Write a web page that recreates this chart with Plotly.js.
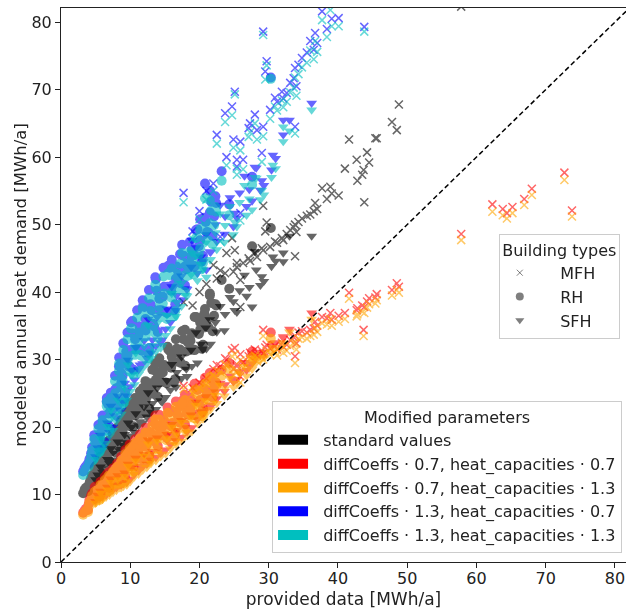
<!DOCTYPE html>
<html>
<head>
<meta charset="utf-8">
<script src="https://cdn.plot.ly/plotly-3.0.1.min.js"></script>
<style>
  html, body { margin: 0; padding: 0; background: #fff; }
  #chart { width: 626px; height: 609px; }
</style>
</head>
<body>
<div id="chart"></div>
<script>
// ---------- data (provided data vs. modeled annual heat demand, MWh/a) ----------
const paramLabels = [
  'standard values',
  'diffCoeffs · 0.7, heat_capacities · 0.7',
  'diffCoeffs · 0.7, heat_capacities · 1.3',
  'diffCoeffs · 1.3, heat_capacities · 0.7',
  'diffCoeffs · 1.3, heat_capacities · 1.3'
];
const typeLabels = ['MFH', 'RH', 'SFH'];
const tickValues = [0, 10, 20, 30, 40, 50, 60, 70, 80];
const diagonal = [0, 90];

// RH
const rhX = [3.2,3.4,3.6,3.9,4.1,4.5,4.8,5.1,5.4,5.7,6.0,6.3,6.6,6.9,7.2,7.5,7.8,8.1,8.4,8.7,9.0,9.3,9.6,9.9,10.3,10.7,11.0,11.4,11.8,12.2,12.7,13.2,13.7,14.2,14.8,15.4,16.0,16.6,17.2,17.9,18.6,19.3,20.1,20.8,21.5,22.3,23.2,24.3,27.6,30.3,
  4.0,4.35,4.7,5.05,5.4,5.75,6.1,6.45,6.8,7.15,7.5,7.85,8.2,8.55,8.9,9.25,9.6,9.95,10.3,10.65,11.0,11.35,11.7,12.05,12.4,12.75,13.1,13.45,13.8,14.15,14.5,14.9,15.3,15.7,16.1,16.5,16.9,17.3,17.7,18.1,18.5,18.9,19.3,19.7,20.1,20.5,20.9,21.3,21.7,22.1,
  4.17,4.52,4.87,5.22,5.57,5.92,6.27,6.62,6.97,7.32,7.67,8.02,8.37,8.72,9.07,9.42,9.77,10.12,10.47,10.82,11.17,11.52,11.87,12.22,12.57,12.92,13.27,13.62,13.97,14.32,14.7,15.1,15.5,15.9,16.3,16.7,17.1,17.5,17.9,18.3,18.7,19.1,19.5,19.9,20.3,20.7,21.1,21.5,21.9,22.4];
const rhStd = [10.2,10.7,11.0,10.5,11.5,12.9,12.6,14.3,14.0,15.6,15.0,16.8,16.0,18.0,17.2,19.0,18.0,19.9,19.0,21.0,20.0,22.1,20.9,23.1,21.9,24.3,23.0,25.3,24.1,26.8,25.5,28.5,27.0,30.2,29.0,31.9,30.4,33.0,31.5,34.4,33.0,36.3,35.5,37.5,39.5,38.2,41.8,40.5,46.8,49.5,
  11.3,12.4,12.0,14.2,13.9,13.2,15.2,14.8,16.9,16.3,16.6,18.3,17.1,19.9,19.4,18.2,21.0,20.2,22.8,21.7,21.9,23.9,22.0,25.8,24.5,22.7,26.1,24.9,28.2,26.6,26.7,29.2,26.5,31.3,29.4,27.1,31.0,29.5,33.0,31.2,31.4,33.9,31.4,36.2,34.4,32.2,36.2,34.8,38.4,36.5,
  11.9,11.9,14.0,13.4,12.8,15.3,14.7,17.4,15.0,17.2,17.6,17.1,20.1,18.9,17.7,21.2,20.2,23.6,20.1,22.8,23.0,22.0,25.8,23.9,22.2,26.5,25.0,29.4,24.5,27.9,28.1,26.6,31.5,28.8,26.6,31.6,29.7,34.2,29.1,32.6,32.8,31.5,36.3,33.8,31.6,36.8,34.9,39.8,34.2,38.0];
const rhD07H07 = [7.3,7.6,7.9,7.7,9.2,10.2,10.5,11.0,10.7,11.9,11.5,12.6,12.2,13.3,13.0,13.9,13.7,14.6,14.1,15.6,15.2,16.6,15.9,17.4,16.7,18.2,17.5,18.9,18.1,19.9,19.3,20.8,20.3,21.8,21.2,22.9,22.4,23.8,23.1,24.8,24.4,26.4,26.2,27.3,27.9,28.0,28.5,29.5,31.2,34.0,
  8.6,9.8,9.3,11.2,10.5,10.1,11.5,11.2,12.4,12.0,12.0,13.4,12.0,14.7,13.8,12.8,15.0,14.3,16.6,15.6,15.3,17.3,15.3,19.1,17.4,15.8,18.9,17.9,20.3,19.0,18.8,20.9,18.4,22.2,20.6,19.1,21.6,20.6,23.1,22.0,21.8,23.8,21.8,25.5,24.0,22.7,25.5,24.8,26.9,25.9,
  9.2,9.2,11.1,10.4,9.7,11.5,11.2,13.0,11.0,12.4,12.9,12.3,14.5,13.3,12.4,15.5,14.2,17.4,14.1,16.5,16.5,15.3,19.2,17.1,15.3,19.2,18.0,21.7,17.2,19.8,20.1,18.8,22.3,20.1,18.6,22.3,20.7,23.9,20.4,22.9,22.9,21.8,25.6,23.7,22.1,25.7,24.8,28.0,24.4,26.6];
const rhD07H13 = [7.0,7.3,7.6,7.4,8.8,9.8,10.0,10.6,10.3,11.4,11.1,12.1,11.8,12.8,12.5,13.4,13.2,14.1,13.6,15.0,14.7,16.0,15.3,16.8,16.1,17.6,16.9,18.3,17.5,19.2,18.6,20.1,19.6,21.1,20.5,22.1,21.6,23.0,22.3,24.0,23.6,25.5,25.4,26.4,27.0,27.1,27.6,28.6,30.3,33.1,
  8.2,9.2,8.8,10.5,10.1,9.5,11.0,10.5,12.0,11.4,11.5,12.7,11.6,14.1,13.3,12.1,14.6,13.7,16.1,14.9,14.9,16.7,14.8,18.4,17.0,15.2,18.4,17.2,19.9,18.4,18.3,20.2,18.0,21.6,20.1,18.4,21.2,20.0,22.6,21.3,21.4,23.2,21.3,24.8,23.6,22.1,25.0,24.1,26.5,25.3,
  8.7,8.8,10.4,9.8,9.2,11.1,10.5,12.4,10.5,12.0,12.2,11.7,14.0,12.9,11.7,14.9,13.7,17.0,13.4,15.9,16.0,14.9,18.5,16.5,14.8,18.8,17.3,21.1,16.7,19.4,19.4,18.2,21.8,19.7,17.9,21.7,20.2,23.5,19.7,22.3,22.4,21.4,24.9,23.1,21.6,25.3,24.1,27.4,23.9,26.2];
const rhD13H07 = [13.4,13.9,14.2,14.6,15.2,17.0,18.8,17.8,20.3,19.0,21.7,20.5,23.8,22.0,25.1,23.6,27.6,25.8,30.3,28.0,32.4,30.2,34.0,31.4,35.7,33.0,37.3,34.6,38.8,36.0,40.3,37.5,41.9,39.0,43.6,40.8,44.8,42.0,45.6,43.8,47.4,45.5,50.8,56.1,51.8,54.2,57.9,53.0,57.1,71.8,
  14.6,16.1,15.6,18.7,18.3,17.3,20.6,20.0,23.4,22.3,22.7,25.6,23.3,29.2,27.6,25.2,30.7,28.9,33.9,31.5,31.6,34.9,31.3,37.8,35.1,31.7,37.3,34.9,40.2,37.3,37.3,40.8,36.9,43.6,41.0,38.2,43.1,41.3,45.4,43.4,43.6,46.3,43.8,49.3,47.7,45.4,50.4,48.8,53.4,51.2,
  15.3,15.4,18.3,17.6,16.7,20.7,19.9,24.3,20.1,23.7,24.3,23.3,29.0,26.6,24.2,31.2,29.0,35.5,28.5,33.4,33.6,31.5,38.0,34.3,31.0,38.2,35.3,42.2,34.1,39.3,39.3,37.1,43.9,40.2,37.3,43.8,41.5,47.0,41.0,44.9,45.2,43.9,49.2,46.8,44.5,51.0,48.9,55.0,48.3,53.2];
const rhD13H13 = [12.9,13.4,13.8,14.1,14.7,16.5,18.2,17.3,19.7,18.4,21.0,19.9,23.1,21.3,24.3,22.9,26.8,25.0,29.4,27.2,31.4,29.3,33.0,30.5,34.6,32.0,36.2,33.6,37.6,34.9,39.1,36.4,40.6,37.8,42.3,39.6,43.5,40.7,44.2,42.5,46.0,44.1,49.3,53.9,50.2,52.6,56.5,51.4,55.9,71.6,
  14.2,15.7,15.2,18.2,17.8,16.9,20.1,19.5,22.8,21.7,22.1,25.0,22.7,28.5,26.9,24.6,29.9,28.2,33.1,30.7,30.8,34.0,30.5,36.9,34.2,30.9,36.4,34.0,39.2,36.4,36.4,39.8,36.0,42.5,40.0,37.2,42.0,40.3,44.3,42.3,42.5,45.1,42.7,48.1,46.5,44.3,49.1,47.6,52.1,49.9,
  14.9,15.0,17.8,17.2,16.3,20.2,19.4,23.7,19.6,23.1,23.7,22.7,28.3,25.9,23.6,30.4,28.3,34.6,27.8,32.6,32.8,30.7,37.1,33.4,30.2,37.2,34.4,41.1,33.2,38.3,38.3,36.2,42.8,39.2,36.4,42.7,40.5,45.8,40.0,43.8,44.1,42.8,48.0,45.6,43.4,49.7,47.7,53.6,47.1,51.9];

// SFH
const sfhX = [5.0,5.5,6.0,6.5,7.0,7.5,8.0,8.5,9.0,9.5,10.0,10.6,11.2,11.8,12.4,13.0,13.7,14.4,15.1,15.8,16.6,17.4,18.2,18.9,19.7,20.5,21.0,21.5,22.5,23.6,24.9,25.4,26.8,27.6,28.0,28.8,29.0,30.4,31.0,32.1,32.1,36.2,
  5.3,5.7,6.2,6.7,7.2,7.7,8.2,8.7,9.2,9.7,10.2,10.8,11.4,12.0,12.6,13.2,13.9,14.6,15.3,16.0,16.7,17.4,18.1,18.8,19.5,20.2,20.9,21.6,22.3,23.0,23.7,24.4,25.1,25.8,26.5,27.2,28.2,29.3,30.6,33.0];
const sfhStd = [12.2,12.6,13.3,13.8,14.6,15.1,16.0,16.5,17.3,17.7,18.7,19.2,20.2,20.6,21.5,22.2,22.6,23.9,24.4,25.5,25.9,27.2,27.5,29.0,29.5,31.5,31.6,35.9,34.1,34.3,38.6,37.0,39.4,37.8,46.0,41.0,42.3,43.8,44.6,45.8,44.5,48.3,
  12.9,14.1,13.6,15.2,16.8,16.1,17.8,16.7,18.9,20.6,20.0,22.0,20.8,23.0,25.1,23.5,25.8,23.7,26.9,29.3,28.1,30.4,28.6,31.4,34.0,32.3,34.7,32.3,35.5,37.9,36.7,39.2,37.3,40.2,42.5,40.7,43.3,41.6,45.2,48.3];
const sfhD07H07 = [9.0,9.3,9.6,9.9,10.3,10.7,11.0,11.4,11.6,11.8,12.3,13.0,13.5,14.1,14.5,15.1,15.5,16.1,16.6,17.4,18.0,18.5,19.3,19.9,21.1,21.9,22.7,23.3,24.2,25.3,26.7,27.1,28.4,29.4,30.1,30.7,31.1,32.0,32.5,33.4,33.2,36.9,
  9.9,10.5,10.2,11.1,12.3,11.4,12.8,11.4,13.2,14.5,14.0,15.4,14.2,16.0,18.1,16.4,18.4,16.3,18.9,20.4,19.5,21.0,19.9,21.8,23.7,22.3,24.5,23.0,25.2,26.5,26.3,27.6,27.0,28.2,29.6,29.1,30.6,30.6,32.4,34.5];
const sfhD07H13 = [8.7,9.0,9.3,9.6,9.9,10.3,10.6,11.0,11.2,11.4,11.9,12.6,13.0,13.6,14.0,14.6,15.0,15.6,16.0,16.8,17.4,17.9,18.7,19.3,20.5,21.2,22.0,22.6,23.5,24.6,25.9,26.3,27.6,28.6,29.3,29.9,30.3,31.1,31.6,32.5,32.3,36.0,
  9.4,10.2,9.6,10.7,11.8,11.1,12.2,11.0,12.7,14.2,13.4,15.0,13.7,15.7,17.5,16.0,17.9,16.0,18.3,20.0,19.0,20.7,19.3,21.4,23.2,22.0,23.9,22.6,24.7,26.2,25.7,27.2,26.5,27.9,29.0,28.7,30.1,30.3,31.8,34.1];
const sfhD13H07 = [15.6,16.3,17.0,18.1,19.2,20.0,21.4,22.5,23.7,24.6,26.0,27.0,28.5,29.4,30.2,31.0,32.0,32.5,34.5,35.5,37.3,38.9,40.4,47.7,42.8,44.5,43.3,46.0,47.5,48.6,49.7,51.0,52.7,53.5,58.5,55.1,56.5,58.1,59.8,65.5,63.3,68.0,
  16.9,18.8,17.9,20.6,23.1,21.7,24.6,22.5,26.5,29.9,28.4,31.8,29.2,32.8,36.0,32.9,36.3,32.9,37.5,40.8,39.5,42.4,40.5,43.7,46.6,45.2,48.5,45.9,50.0,52.9,51.2,54.0,51.7,54.7,57.2,55.2,58.4,55.8,60.3,65.5];
const sfhD13H13 = [15.2,15.9,16.6,17.6,18.7,19.5,20.9,21.9,23.1,24.0,25.3,26.3,27.8,28.7,29.4,30.2,31.2,31.7,33.6,34.6,36.4,37.9,39.4,45.8,41.7,43.4,42.2,44.8,46.3,47.4,48.5,49.7,51.4,52.2,57.0,53.7,55.1,57.0,58.3,64.5,62.3,67.0,
  16.5,18.3,17.5,20.1,22.5,21.2,24.0,21.9,25.8,29.2,27.7,31.0,28.5,32.0,35.1,32.1,35.4,32.1,36.6,39.8,38.5,41.3,39.5,42.6,45.4,44.1,47.3,44.8,48.8,51.6,49.9,52.7,50.4,53.3,55.8,53.8,56.9,54.4,58.8,63.9];

// MFH
const mfhX = [17.7,19.0,20.0,21.0,22.0,22.5,23.0,23.7,23.9,24.7,24.9,25.1,25.4,25.4,25.9,25.9,26.3,27.1,27.3,28.0,28.3,29.0,29.2,29.2,29.5,29.7,30.2,30.9,31.2,31.9,32.1,32.6,33.1,33.6,33.8,33.8,34.0,34.3,34.8,35.5,36.0,36.5,36.7,37.0,37.7,38.4,38.9,39.1,40.1,41.0,41.6,42.7,42.8,43.5,43.7,43.8,44.2,44.5,45.4,45.6,47.8,48.5,48.8,57.8,62.3,63.8,64.4,65.2,66.9,68.0,72.7,73.8];
const mfhStd = [38.5,38.0,40.0,41.2,44.0,42.0,43.2,42.8,45.8,48.0,43.0,46.2,44.3,43.7,41.8,37.8,44.3,45.0,44.6,45.8,45.2,46.5,52.8,46.2,49.0,50.3,46.7,47.5,47.3,48.0,47.7,48.6,49.2,49.6,45.3,50.0,48.9,50.4,50.9,51.3,51.5,52.0,53.2,52.3,55.4,53.8,55.6,54.6,54.3,58.3,62.6,59.6,56.5,57.4,58.1,53.3,60.7,59.2,62.8,62.8,65.2,64.0,67.8,82.3,88.0,90.0,91.0,92.0,95.0,97.0,103.0,104.0];
const mfhD07H07 = [26.1,25.8,26.6,27.2,28.6,29.2,29.0,30.2,30.0,31.4,28.6,31.7,29.0,29.3,30.8,27.5,29.6,30.5,31.0,31.5,30.6,31.3,34.4,30.9,31.8,32.2,31.6,32.0,31.5,32.5,31.9,32.2,32.9,33.3,30.5,33.5,32.4,34.0,34.2,34.0,34.4,34.6,35.6,35.0,36.3,36.1,36.9,35.9,36.5,36.9,39.9,37.3,37.6,38.0,34.4,37.8,38.6,39.1,39.2,39.7,40.3,41.3,40.8,48.6,53.0,52.3,51.7,52.6,53.8,55.3,57.7,52.1];
const mfhD07H13 = [25.6,25.0,25.8,26.4,27.7,28.3,28.2,29.3,29.1,30.5,27.7,30.8,28.1,28.4,29.9,26.6,28.7,29.6,30.1,30.6,29.7,30.4,33.5,30.0,30.9,31.3,30.7,31.1,30.6,31.6,31.0,31.3,32.0,32.4,29.5,32.6,31.5,33.1,33.3,33.1,33.5,33.7,34.7,34.1,35.4,35.2,36.0,35.0,35.6,36.0,39.0,36.4,36.7,37.1,33.5,36.9,37.7,38.2,38.3,38.8,39.5,40.3,39.9,47.7,51.9,51.4,50.9,51.7,52.9,54.4,56.6,51.2];
const mfhD13H07 = [54.7,49.0,52.0,55.0,56.1,63.3,48.2,66.5,60.0,67.5,62.6,69.7,59.6,58.6,62.3,51.7,59.6,64.3,65.0,66.3,64.0,60.6,78.6,64.5,72.7,74.2,67.0,68.8,68.2,69.7,68.7,69.5,71.0,71.7,64.5,73.2,70.5,73.7,74.7,75.5,77.2,75.9,78.4,76.9,81.6,79.0,83.0,80.5,80.6,85.0,90.0,86.5,84.0,84.8,86.0,79.3,89.0,87.5,92.0,92.5,95.0,94.0,99.0,120.0,128.0,130.0,131.0,133.0,136.0,138.0,147.0,150.0];
const mfhD13H13 = [53.3,47.9,50.8,53.7,55.0,62.0,47.5,65.2,58.8,66.2,61.4,69.3,58.3,57.4,61.0,50.6,58.2,63.0,63.7,65.0,62.6,59.3,78.1,63.1,71.5,73.6,65.7,67.5,66.9,68.4,67.4,68.2,69.6,70.3,63.5,71.8,69.1,72.3,73.3,74.0,75.8,74.5,77.2,75.6,80.3,77.8,81.8,79.4,79.4,84.0,89.0,85.3,83.0,83.6,85.0,78.6,88.0,86.2,91.0,91.3,94.0,93.0,98.0,118.0,126.0,128.0,129.0,131.0,134.0,136.0,145.0,148.0];

// ---------- styles ----------
const paramColors = ['#000000', '#ff0000', '#ffa500', '#0000ff', '#00bfbf'];
const typeSymbols = ['x-thin', 'circle', 'triangle-down'];
const typeSizes = [8, 10, 9.5];
const FONT = 'DejaVu Sans, Liberation Sans, sans-serif';
const PAD = '\u00a0\u00a0';

const groups = [
  { x: mfhX, ys: [mfhStd, mfhD07H07, mfhD07H13, mfhD13H07, mfhD13H13] },
  { x: rhX,  ys: [rhStd,  rhD07H07,  rhD07H13,  rhD13H07,  rhD13H13] },
  { x: sfhX, ys: [sfhStd, sfhD07H07, sfhD07H13, sfhD13H07, sfhD13H13] }
];

const traces = [];
for (let p = 0; p < paramLabels.length; p++) {
  for (let t = 0; t < typeLabels.length; t++) {
    const isX = typeSymbols[t] === 'x-thin';
    traces.push({
      type: 'scatter', mode: 'markers',
      x: groups[t].x, y: groups[t].ys[p],
      showlegend: false, hoverinfo: 'skip',
      opacity: 0.6,
      marker: {
        symbol: typeSymbols[t], size: typeSizes[t],
        color: paramColors[p],
        line: isX ? { color: paramColors[p], width: 1.5 } : { width: 0 }
      }
    });
  }
}

// diagonal reference y = x
traces.push({
  type: 'scatter', mode: 'lines', x: diagonal, y: diagonal,
  showlegend: false, hoverinfo: 'skip',
  line: { color: '#000', width: 1.5, dash: '5px,3px' }
});

// legend: modified parameters (colour patches)
for (let p = 0; p < paramLabels.length; p++) {
  traces.push({
    type: 'scatter', mode: 'lines', x: [null], y: [null],
    name: PAD + paramLabels[p], legend: 'legend',
    line: { color: paramColors[p], width: 12 }
  });
}
// legend: building types
const legendSizes = [6, 8, 8];
for (let t = 0; t < typeLabels.length; t++) {
  const isX = typeSymbols[t] === 'x-thin';
  traces.push({
    type: 'scatter', mode: 'markers', x: [null], y: [null],
    name: PAD + PAD + typeLabels[t], legend: 'legend2',
    marker: {
      symbol: typeSymbols[t], size: legendSizes[t], color: 'rgba(0,0,0,0.5)',
      line: isX ? { color: 'rgba(0,0,0,0.5)', width: 1 } : { width: 0 }
    }
  });
}

const axisCommon = {
  showgrid: false, zeroline: false,
  showline: true, linecolor: '#222', linewidth: 1,
  ticks: 'outside', ticklen: 5, tickwidth: 1, tickcolor: '#222',
  tickvals: tickValues,
  tickfont: { family: FONT, size: 16, color: '#222' }
};

const layout = {
  width: 626, height: 609,
  margin: { l: 61, r: 0, t: 8, b: 47 },
  paper_bgcolor: '#fff', plot_bgcolor: '#fff',
  font: { family: FONT, color: '#222' },
  xaxis: Object.assign({}, axisCommon, {
    range: [0, 81.6], mirror: true, ticklabelstandoff: -3,
    title: { text: 'provided data [MWh/a]', font: { family: FONT, size: 17, color: '#222' }, standoff: 6 }
  }),
  yaxis: Object.assign({}, axisCommon, {
    range: [0, 82.1],
    title: { text: 'modeled annual heat demand [MWh/a]', font: { family: FONT, size: 16.5, color: '#222' }, standoff: 0 }
  }),
  legend: {
    x: 0.993, xanchor: 'right', y: 0.016, yanchor: 'bottom',
    bgcolor: '#fff', bordercolor: '#cccccc', borderwidth: 1,
    font: { family: FONT, size: 16, color: '#222' },
    title: { text: 'Modified parameters', side: 'top center', font: { family: FONT, size: 16, color: '#222' } }
  },
  legend2: {
    x: 0.989, xanchor: 'right', y: 0.592, yanchor: 'top',
    bgcolor: '#fff', bordercolor: '#cccccc', borderwidth: 1,
    font: { family: FONT, size: 16, color: '#222' },
    title: { text: 'Building types', side: 'top center', font: { family: FONT, size: 16, color: '#222' } }
  },
  showlegend: true
};

Plotly.newPlot('chart', traces, layout, { displayModeBar: false, staticPlot: true });
</script>
</body>
</html>
